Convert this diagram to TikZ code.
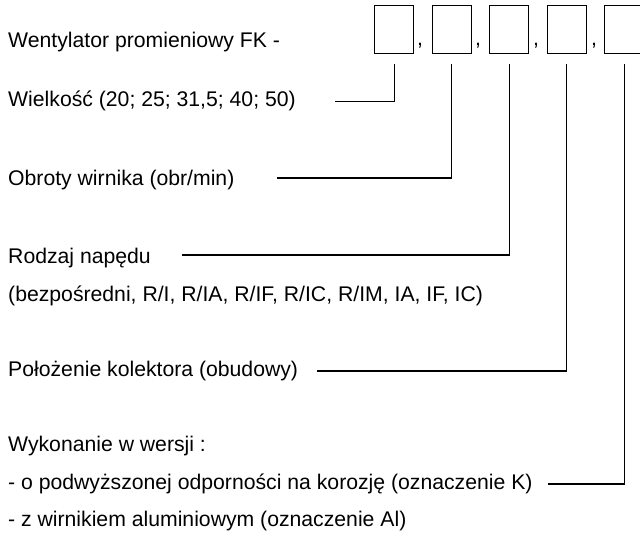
\documentclass[tikz,border=0pt]{standalone}
\usepackage{fontspec}
\setmainfont{Liberation Sans}
\usetikzlibrary{positioning}
\tikzset{
  Kratka/.style={draw,line width=1.4pt,minimum width=39pt,minimum height=48pt,inner sep=0pt,anchor=north west}, % pola kodu
  Opis/.style={anchor=west,inner sep=0pt}, % opisy pol
  Linia/.style={line width=1.4pt,shorten <=10pt} % linie odniesienia
}
\begin{document}
\begin{tikzpicture}[
x=1pt,y=-1pt,
font=\fontsize{21.2}{25}\selectfont
]
\useasboundingbox (0,0) rectangle (640,537);

%Pola kodu
\foreach \i in {1,...,5}
  \node[Kratka] (b\i) at ({374+57.5*(\i-1)},5) {};
\foreach \x [count=\i] in {420,478,536,594}
  \node[anchor=base,inner sep=0pt] (k\i) at (\x,46) {,};

%Opisy
\node[Opis] (wentylator) at (8,42) {Wentylator promieniowy FK -};
\node[Opis] (wielkosc) at (8,101) {Wielkość (20; 25; 31,5; 40; 50)};
\node[Opis] (obroty) at (8,180) {Obroty wirnika (obr/min)};
\node[Opis] (naped) at (8,258) {Rodzaj napędu};
\node[Opis] (naped2) at (8,296) {(bezpośredni, R/I, R/IA, R/IF, R/IC, R/IM, IA, IF, IC)};
\node[Opis] (kolektor) at (8,371) {Położenie kolektora (obudowy)};
\node[Opis] (wykonanie) at (8,446) {Wykonanie w wersji :};
\node[Opis] (korozja) at (8,484) {- o podwyższonej odporności na korozję (oznaczenie K)};
\node[Opis] (aluminium) at (8,521) {- z wirnikiem aluminiowym (oznaczenie Al)};

%Konce linii
\coordinate (w1) at (335,101.5);
\coordinate (w2) at (277,178);
\coordinate (w3) at (182,255);
\coordinate (w4) at (317,371);
\coordinate (w5) at (548,484);

%Linie
\draw[Linia] (b1.south) |- (w1);
\draw[Linia] (b2.south) |- (w2);
\draw[Linia] (b3.south) |- (w3);
\draw[Linia] (b4.south) |- (w4);
\draw[Linia] (b5.south) |- (w5);

\end{tikzpicture}
\end{document}
